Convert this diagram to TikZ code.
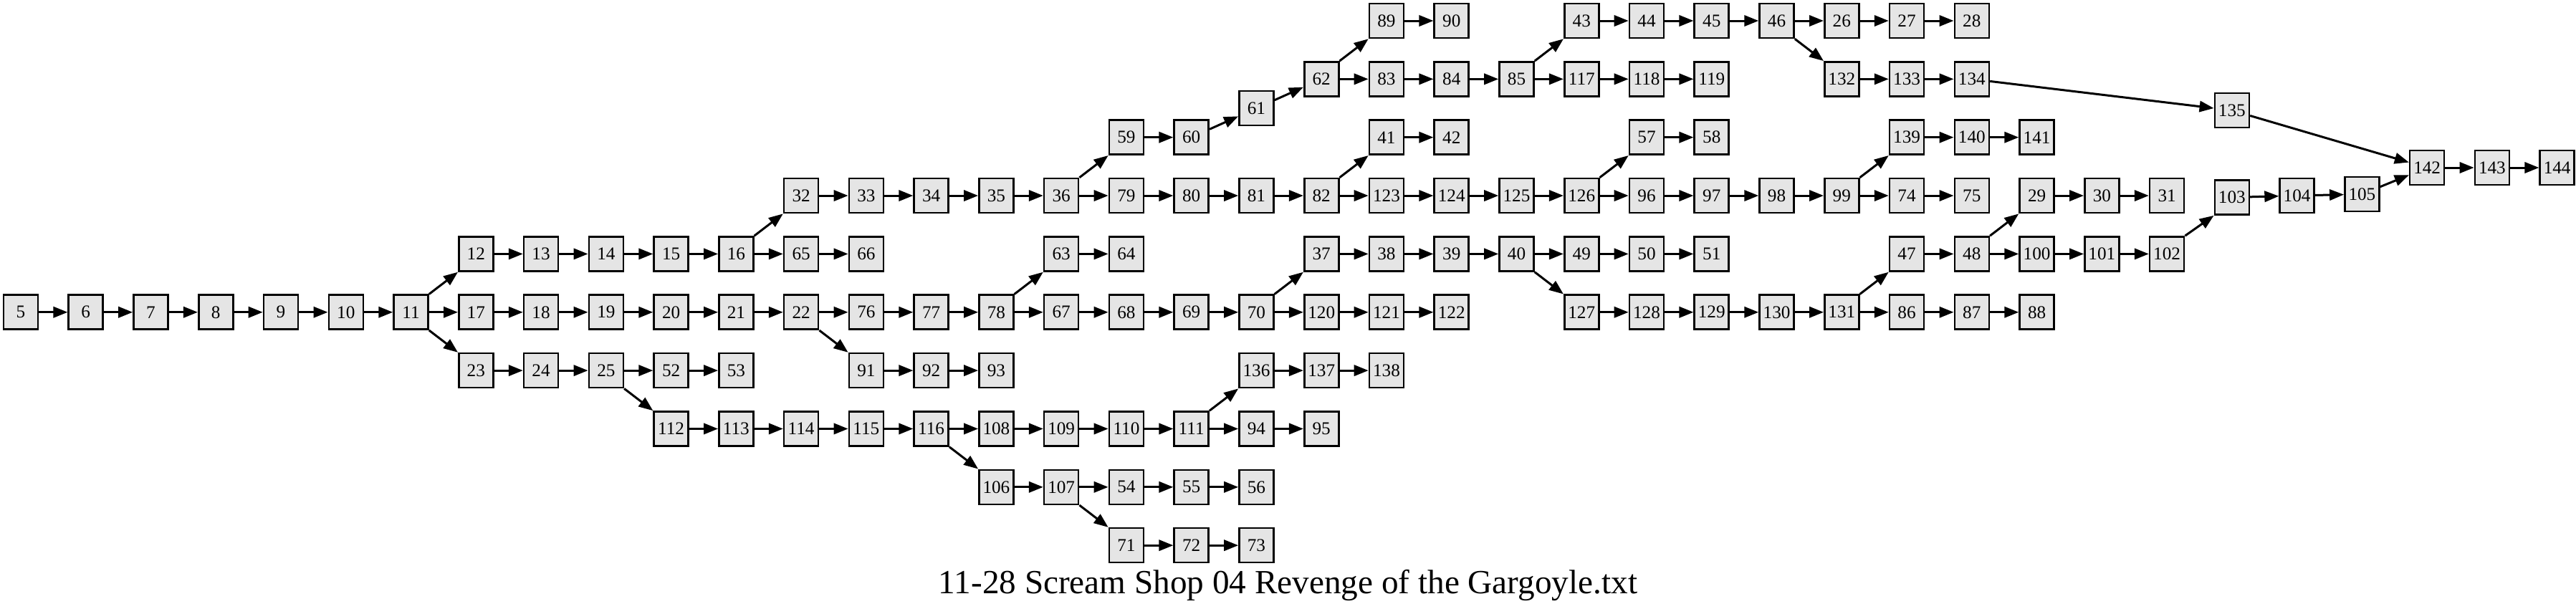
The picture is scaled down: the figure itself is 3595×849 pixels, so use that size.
\documentclass[tikz,border=0pt]{standalone}
\usepackage{fontspec}
\setmainfont{Liberation Serif}
\usetikzlibrary{arrows.meta}
\definecolor{boxfill}{RGB}{229,229,229}
\tikzset{
  box/.style={draw=black, fill=boxfill, line width=0.65pt, minimum width=12pt, minimum height=12pt, inner sep=0pt, font=\fontsize{6.3}{7.5}\selectfont},
  e/.style={line width=0.75pt, -{Triangle[length=5pt,width=3.8pt]}},
}
\newcommand\nd[3]{\node[box] (n#1) at ({29+90.76*#2},{29+81.35*#3}) {#1};}
\newcommand\hz[1]{\foreach \a/\b in {#1} {\draw[e] (n\a) -- (n\b);}}
\begin{document}
\begin{tikzpicture}[x=0.25pt,y=-0.25pt]
\useasboundingbox (0,0) rectangle (3595,849);
% row 0
\nd{89}{21}{0}\nd{90}{22}{0}\nd{43}{24}{0}\nd{44}{25}{0}\nd{45}{26}{0}\nd{46}{27}{0}\nd{26}{28}{0}\nd{27}{29}{0}\nd{28}{30}{0}
% row 1
\nd{62}{20}{1}\nd{83}{21}{1}\nd{84}{22}{1}\nd{85}{23}{1}\nd{117}{24}{1}\nd{118}{25}{1}\nd{119}{26}{1}\nd{132}{28}{1}\nd{133}{29}{1}\nd{134}{30}{1}
\nd{61}{19}{1.5}\nd{135}{34}{1.537}
% row 2
\nd{59}{17}{2}\nd{60}{18}{2}\nd{41}{21}{2}\nd{42}{22}{2}\nd{57}{25}{2}\nd{58}{26}{2}\nd{139}{29}{2}\nd{140}{30}{2}\nd{141}{31}{2}
\nd{142}{37}{2.52}\nd{143}{38}{2.52}\nd{144}{39}{2.52}
% row 3
\nd{32}{12}{3}\nd{33}{13}{3}\nd{34}{14}{3}\nd{35}{15}{3}\nd{36}{16}{3}\nd{79}{17}{3}\nd{80}{18}{3}\nd{81}{19}{3}\nd{82}{20}{3}
\nd{123}{21}{3}\nd{124}{22}{3}\nd{125}{23}{3}\nd{126}{24}{3}\nd{96}{25}{3}\nd{97}{26}{3}\nd{98}{27}{3}\nd{99}{28}{3}\nd{74}{29}{3}\nd{75}{30}{3}
\nd{29}{31}{3}\nd{30}{32}{3}\nd{31}{33}{3}\nd{103}{34}{3.03}\nd{104}{35}{3}\nd{105}{36}{2.975}
% row 4
\nd{12}{7}{4}\nd{13}{8}{4}\nd{14}{9}{4}\nd{15}{10}{4}\nd{16}{11}{4}\nd{65}{12}{4}\nd{66}{13}{4}\nd{63}{16}{4}\nd{64}{17}{4}
\nd{37}{20}{4}\nd{38}{21}{4}\nd{39}{22}{4}\nd{40}{23}{4}\nd{49}{24}{4}\nd{50}{25}{4}\nd{51}{26}{4}\nd{47}{29}{4}\nd{48}{30}{4}
\nd{100}{31}{4}\nd{101}{32}{4}\nd{102}{33}{4}
% row 5
\nd{5}{0}{5}\nd{6}{1}{5}\nd{7}{2}{5}\nd{8}{3}{5}\nd{9}{4}{5}\nd{10}{5}{5}\nd{11}{6}{5}
\nd{17}{7}{5}\nd{18}{8}{5}\nd{19}{9}{5}\nd{20}{10}{5}\nd{21}{11}{5}\nd{22}{12}{5}\nd{76}{13}{5}\nd{77}{14}{5}\nd{78}{15}{5}
\nd{67}{16}{5}\nd{68}{17}{5}\nd{69}{18}{5}\nd{70}{19}{5}\nd{120}{20}{5}\nd{121}{21}{5}\nd{122}{22}{5}
\nd{127}{24}{5}\nd{128}{25}{5}\nd{129}{26}{5}\nd{130}{27}{5}\nd{131}{28}{5}\nd{86}{29}{5}\nd{87}{30}{5}\nd{88}{31}{5}
% row 6
\nd{23}{7}{6}\nd{24}{8}{6}\nd{25}{9}{6}\nd{52}{10}{6}\nd{53}{11}{6}\nd{91}{13}{6}\nd{92}{14}{6}\nd{93}{15}{6}
\nd{136}{19}{6}\nd{137}{20}{6}\nd{138}{21}{6}
% row 7
\nd{112}{10}{7}\nd{113}{11}{7}\nd{114}{12}{7}\nd{115}{13}{7}\nd{116}{14}{7}\nd{108}{15}{7}\nd{109}{16}{7}\nd{110}{17}{7}\nd{111}{18}{7}
\nd{94}{19}{7}\nd{95}{20}{7}
% row 8
\nd{106}{15}{8}\nd{107}{16}{8}\nd{54}{17}{8}\nd{55}{18}{8}\nd{56}{19}{8}
% row 9
\nd{71}{17}{9}\nd{72}{18}{9}\nd{73}{19}{9}
% straight / centre-to-centre edges
\hz{5/6,6/7,7/8,8/9,9/10,10/11,11/17,17/18,18/19,19/20,20/21,21/22,22/76,76/77,77/78,78/67,67/68,68/69,69/70,70/120,120/121,121/122}
\hz{12/13,13/14,14/15,15/16,16/65,65/66,63/64,37/38,38/39,39/40,40/49,49/50,50/51,47/48,48/100,100/101,101/102}
\hz{32/33,33/34,34/35,35/36,36/79,79/80,80/81,81/82,82/123,123/124,124/125,125/126,126/96,96/97,97/98,98/99,99/74,74/75,29/30,30/31,103/104,104/105}
\hz{59/60,60/61,61/62,41/42,57/58,139/140,140/141,62/83,83/84,84/85,85/117,117/118,118/119,132/133,133/134,134/135,135/142,105/142,142/143,143/144}
\hz{89/90,43/44,44/45,45/46,46/26,26/27,27/28}
\hz{127/128,128/129,129/130,130/131,131/86,86/87,87/88,23/24,24/25,25/52,52/53,91/92,92/93,136/137,137/138}
\hz{112/113,113/114,114/115,115/116,116/108,108/109,109/110,110/111,111/94,94/95,106/107,107/54,54/55,55/56,71/72,72/73}
% diagonal edges going up
\foreach \a/\b in {11/12,16/32,36/59,62/89,85/43,82/41,126/57,99/139,78/63,70/37,131/47,48/29,102/103,111/136}
  {\draw[e] (n\a.north east) -- (n\b.south west);}
% diagonal edges going down
\foreach \a/\b in {11/23,46/132,22/91,40/127,25/112,116/106,107/71}
  {\draw[e] (n\a.south east) -- (n\b.north west);}
\node[anchor=base, font=\fontsize{11.8}{14}\selectfont, inner sep=0pt] (title) at (1797.5,828) {11-28 Scream Shop 04 Revenge of the Gargoyle.txt};
\end{tikzpicture}
\end{document}
